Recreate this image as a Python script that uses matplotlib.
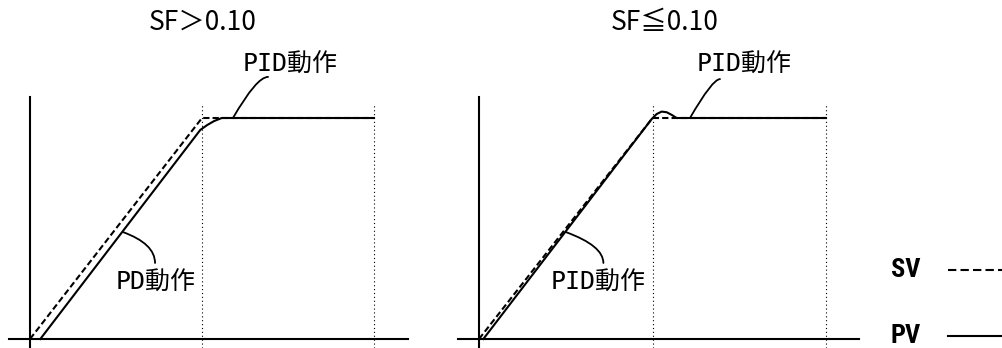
import matplotlib
matplotlib.use('Agg')
import matplotlib.pyplot as plt
from matplotlib.lines import Line2D

W, H = 1003, 348

# textes
titles = ['SF＞0.10', 'SF≦0.10']
upper_labels = ['PID動作', 'PID動作']
lower_labels = ['PD動作', 'PID動作']
legend_labels = ['SV', 'PV']

# SV : rampe puis palier (identique dans les deux cas)
sv_t = [0.0, 1.0, 2.0]
sv_v = [0.0, 1.0, 1.0]

# PV, SF > 0.10 : en retard sur la rampe, arrondi vers la consigne
pv1_t = [0.06, 0.99, 1.03, 1.07, 1.115, 2.0]
pv1_v = [0.0, 0.946, 0.968, 0.986, 1.0, 1.0]

# PV, SF <= 0.10 : suit la rampe, petit dépassement
pv2_t = [0.025, 0.995, 1.024, 1.053, 1.082, 1.111, 1.139, 2.0]
pv2_v = [0.0, 0.995, 1.018, 1.029, 1.026, 1.014, 1.0, 1.0]

pv_series = [(pv1_t, pv1_v), (pv2_t, pv2_v)]

# repères (point sur la courbe, bout du trait, position du texte)
upper_xy = [(1.18, 1.0), (1.216, 1.0)]
upper_end = [(1.384, 1.186), (1.389, 1.176)]
upper_txt = [(1.238, 1.24), (1.256, 1.24)]
lower_xy = [(0.54, 0.484), (0.50, 0.484)]
lower_end = [(0.727, 0.344), (0.717, 0.344)]
lower_txt = [(0.50, 0.253), (0.415, 0.253)]
title_pos = [(1.006, 1.434), (1.072, 1.434)]

# étendue des axes
h_axis = [(-0.12, 2.2), (-0.12, 2.19)]
v_axis = (-0.036, 1.095)
marks_t = [1.0, 2.0]
marks_v = (-0.04, 1.06)

# placement en pixels (origine, échelle)
origins = [(30, 339), (479, 339)]
units = [(172, 221), (173.5, 221)]
xlim = (-0.2, 2.4)
ylim = (-0.06, 1.55)

jp_font = ['DejaVu Sans Mono', 'Noto Sans CJK JP']
title_font = ['Noto Sans CJK JP', 'DejaVu Sans']
fs = 18
lw = 1.5

fig = plt.figure(figsize=(W / 100, H / 100), dpi=100)

for i in range(2):
    ox, oy = origins[i]
    ux, uy = units[i]
    left = ox + xlim[0] * ux
    width = (xlim[1] - xlim[0]) * ux
    bottom = (H - oy) + ylim[0] * uy
    height = (ylim[1] - ylim[0]) * uy
    ax = fig.add_axes([left / W, bottom / H, width / W, height / H])
    ax.set_xlim(*xlim)
    ax.set_ylim(*ylim)
    ax.axis('off')

    # axes
    ax.plot(h_axis[i], [0, 0], color='black', lw=lw, clip_on=False)
    ax.plot([0, 0], v_axis, color='black', lw=lw, clip_on=False)
    for t in marks_t:
        ax.plot([t, t], marks_v, color='black', lw=0.8,
                linestyle=(0, (1, 2.5)), clip_on=False)

    # courbes
    pt, pv = pv_series[i]
    ax.plot(pt, pv, color='black', lw=lw)
    ax.plot(sv_t, sv_v, color='black', lw=lw, dashes=(3, 1.5))

    # traits de repère
    ax.annotate('', xy=upper_xy[i], xytext=upper_end[i],
                arrowprops=dict(arrowstyle='-', lw=1.3, shrinkA=0, shrinkB=0,
                                connectionstyle='angle3,angleA=0,angleB=60'))
    ax.annotate('', xy=lower_xy[i], xytext=lower_end[i],
                arrowprops=dict(arrowstyle='-', lw=1.3, shrinkA=0, shrinkB=0,
                                connectionstyle='angle3,angleA=90,angleB=-20'))

    ax.text(*upper_txt[i], upper_labels[i], family=jp_font, fontsize=fs,
            ha='left', va='center')
    ax.text(*lower_txt[i], lower_labels[i], family=jp_font, fontsize=fs,
            ha='left', va='center')
    ax.text(*title_pos[i], titles[i], family=title_font, fontsize=19,
            ha='center', va='center')

# légende
leg_y = [270, 336]
leg_styles = [dict(dashes=(4, 2)), dict()]
for lab, y, st in zip(legend_labels, leg_y, leg_styles):
    fig.text(906 / W, 1 - y / H, lab,
             family=['Roboto Condensed', 'Liberation Sans Narrow', 'DejaVu Sans'],
             weight='bold', fontstretch='condensed', fontsize=19,
             ha='center', va='center')
    fig.add_artist(Line2D([948 / W, 1003 / W], [1 - y / H, 1 - y / H],
                          transform=fig.transFigure, color='black', lw=lw, **st))

fig.savefig('out.png', dpi=100, facecolor='white')
